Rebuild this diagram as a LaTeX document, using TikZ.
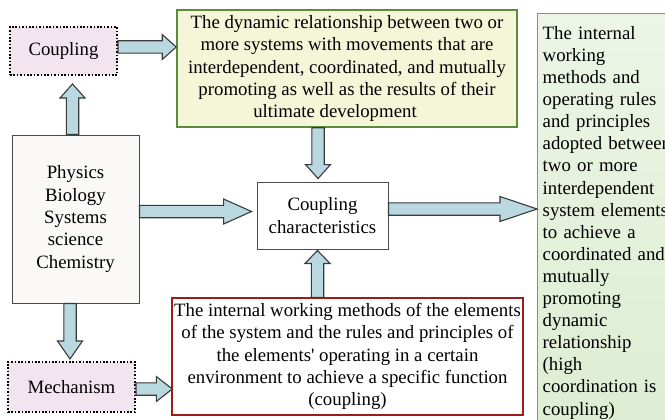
\documentclass[tikz,border=0pt]{standalone}
\usepackage{fontspec}
\setmainfont{Liberation Serif}
\usetikzlibrary{calc}
\definecolor{arrfill}{HTML}{B9D8E0}
\definecolor{arrdraw}{HTML}{3A3A3A}
\definecolor{pinkfill}{HTML}{F2E5EF}
\definecolor{greenfill}{HTML}{F5F6D8}
\definecolor{greenborder}{HTML}{5A8C3C}
\definecolor{righttop}{HTML}{EDF5E6}
\definecolor{rightbot}{HTML}{DDEDD2}
\definecolor{rightborder}{HTML}{6BA553}
\definecolor{redborder}{HTML}{9E1B1B}
\definecolor{leftfill}{HTML}{FBF8F8}
\definecolor{boxborder}{HTML}{4A4A4A}
\tikzset{
  txt/.style={font=\fontsize{18.8}{22.3}\selectfont, align=center, inner sep=0pt},
  dotbox/.style={txt, draw=black, fill=pinkfill, line width=2pt, dash pattern=on 1.6pt off 1.8pt},
  greenbox/.style={txt, draw=greenborder, fill=greenfill, line width=1.6pt},
  plainbox/.style={txt, draw=boxborder, line width=0.9pt},
  redbox/.style={txt, draw=redborder, fill=white, line width=1.4pt},
  rightbox/.style={txt, font=\fontsize{18.8}{22.1}\selectfont, align=left, draw=rightborder, line width=1.4pt, top color=righttop, bottom color=rightbot, anchor=north west, text width=150pt, inner xsep=3pt},
  blockarr/.style={draw=arrdraw, fill=arrfill, line width=1.1pt, line join=miter}
}
\newcommand\blockarrow[3]{%
  \coordinate (ba-s) at #1;
  \coordinate (ba-e) at #2;
  \coordinate (ba-h) at ($(ba-e)!#3!(ba-s)$);
  \draw[blockarr] ($(ba-s)!6.2pt!90:(ba-e)$) -- ($(ba-h)!6.2pt!90:(ba-e)$)
    -- ($(ba-h)!12.5pt!90:(ba-e)$) -- (ba-e) -- ($(ba-h)!12.5pt!-90:(ba-e)$)
    -- ($(ba-h)!6.2pt!-90:(ba-e)$) -- ($(ba-s)!6.2pt!-90:(ba-e)$) -- cycle;}
\begin{document}
\begin{tikzpicture}[x=1pt,y=-1pt]
\useasboundingbox (0,0) rectangle (665,420);
\clip (0,0) rectangle (665,420);
\fill[white] (0,0) rectangle (665,420);

\node[dotbox, minimum width=107pt, minimum height=48pt] (coupling) at (63.5,51) {Coupling};
\node[greenbox, minimum width=340pt, minimum height=117pt] (green) at (347,68.5)
  {The dynamic relationship between two or\\ more systems with movements that are\\ interdependent, coordinated, and mutually\\ promoting as well as the results of their\\ ultimate development\hspace*{24pt}};
\node[plainbox, fill=leftfill, minimum width=127pt, minimum height=168pt] (leftbox) at (75.5,219)
  {Physics\\ Biology\\ Systems\\ science\\ Chemistry};
\node[plainbox, fill=white, minimum width=131pt, minimum height=67pt] (cc) at (322.5,215.5)
  {Coupling\\ characteristics};
\node[redbox, minimum width=351pt, minimum height=117pt] (red) at (347.5,356.5)
  {The internal working methods of the elements\\ of the system and the rules and principles of\\ the elements\textquotesingle\ operating in a certain\\ environment to achieve a specific function\\ (coupling)};
\node[dotbox, minimum width=127pt, minimum height=50pt] (mech) at (71.5,387) {Mechanism};
\node[rightbox, minimum width=160pt, minimum height=418pt] (right) at (537,13)
  {The internal\\ working\\ methods and\\ operating rules\\ and principles\\ adopted between\\ two or more\\ interdependent\\ system elements\\ to achieve a\\ coordinated and\\ mutually\\ promoting\\ dynamic\\ relationship\\ (high\\ coordination is\\ coupling)};

\blockarrow{($(coupling.east)+(0,-4)$)}{($(green.west|-coupling.east)+(0,-4)$)}{14pt}
\blockarrow{($(leftbox.north)+(-3,0)$)}{($(coupling.south-|leftbox.north)+(-3,8)$)}{14pt}
\blockarrow{($(leftbox.east)+(0,-7.5)$)}{($(cc.west|-leftbox.east)+(-5,-7.5)$)}{28pt}
\blockarrow{($(green.south)+(-29,0)$)}{($(cc.north-|green.south)+(-29,-3)$)}{14pt}
\blockarrow{($(cc.east)+(0,-6.5)$)}{($(right.west|-cc.east)+(0,-6.5)$)}{37pt}
\blockarrow{($(red.north)+(-30,0)$)}{($(cc.south-|red.north)+(-30,1)$)}{13pt}
\blockarrow{($(leftbox.south)+(-5.5,0)$)}{($(mech.north-|leftbox.south)+(-5.5,-2)$)}{18pt}
\blockarrow{($(mech.east)+(0,2)$)}{($(red.west|-mech.east)+(1,2)$)}{16pt}
\end{tikzpicture}
\end{document}
